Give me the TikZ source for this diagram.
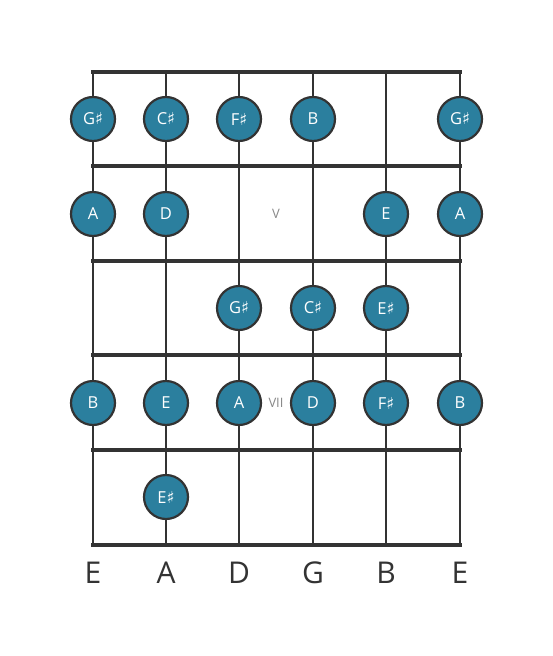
\documentclass[tikz,border=0pt]{standalone}
\usepackage{fontspec}
\setmainfont{Open Sans}
\newfontfamily\symfont{DejaVu Sans}
\definecolor{dotfill}{HTML}{2B7F9E}
\definecolor{ink}{HTML}{333333}
\definecolor{fretlbl}{HTML}{888888}
\newcommand{\shp}{{\symfont\char"266F}}
\begin{document}
\begin{tikzpicture}[x=1pt,y=-1pt,
  fretline/.style={ink,line width=4pt},
  stringline/.style={ink,line width=2.6pt},
  notedot/.style={circle,draw=ink,line width=2.2pt,fill=dotfill,minimum size=44pt,inner sep=0pt,text=white,font=\fontsize{16.5}{16.5}\selectfont},
  strlbl/.style={text=ink,font=\fontsize{30}{30}\selectfont},
  fretnum/.style={text=fretlbl,font=\fontsize{13}{13}\selectfont}]
\useasboundingbox (0,0) rectangle (553,656);
% string coordinates
\foreach \n/\x in {1/93,2/166,3/239,4/313,5/386,6/460}{
  \coordinate (s\n t) at (\x,72);
  \coordinate (s\n b) at (\x,545);
}
\foreach \n in {1,...,6}{ \draw[stringline] (s\n t) -- (s\n b); }
\foreach \f/\y in {0/72,1/166,2/261,3/355,4/450,5/545}{
  \coordinate (f\f l) at (91,\y);
  \coordinate (f\f r) at (462,\y);
  \draw[fretline] (f\f l) -- (f\f r);
}
% fret labels
\node[fretnum] (v) at (276,214) {V};
\node[fretnum] (vii) at (276,403) {VII};
% notes
\node[notedot] (n11) at (93,119) {G\shp};
\node[notedot] (n12) at (166,119) {C\shp};
\node[notedot] (n13) at (239,119) {F\shp};
\node[notedot] (n14) at (313,119) {B};
\node[notedot] (n16) at (460,119) {G\shp};
\node[notedot] (n21) at (93,214) {A};
\node[notedot] (n22) at (166,214) {D};
\node[notedot] (n25) at (386,214) {E};
\node[notedot] (n26) at (460,214) {A};
\node[notedot] (n33) at (239,308) {G\shp};
\node[notedot] (n34) at (313,308) {C\shp};
\node[notedot] (n35) at (386,308) {E\shp};
\node[notedot] (n41) at (93,403) {B};
\node[notedot] (n42) at (166,403) {E};
\node[notedot] (n43) at (239,403) {A};
\node[notedot] (n44) at (313,403) {D};
\node[notedot] (n45) at (386,403) {F\shp};
\node[notedot] (n46) at (460,403) {B};
\node[notedot] (n52) at (166,497) {E\shp};
% string names
\node[strlbl] (l1) at (93,573) {E};
\node[strlbl] (l2) at (166,573) {A};
\node[strlbl] (l3) at (239,573) {D};
\node[strlbl] (l4) at (313,573) {G};
\node[strlbl] (l5) at (386,573) {B};
\node[strlbl] (l6) at (460,573) {E};
\end{tikzpicture}
\end{document}
